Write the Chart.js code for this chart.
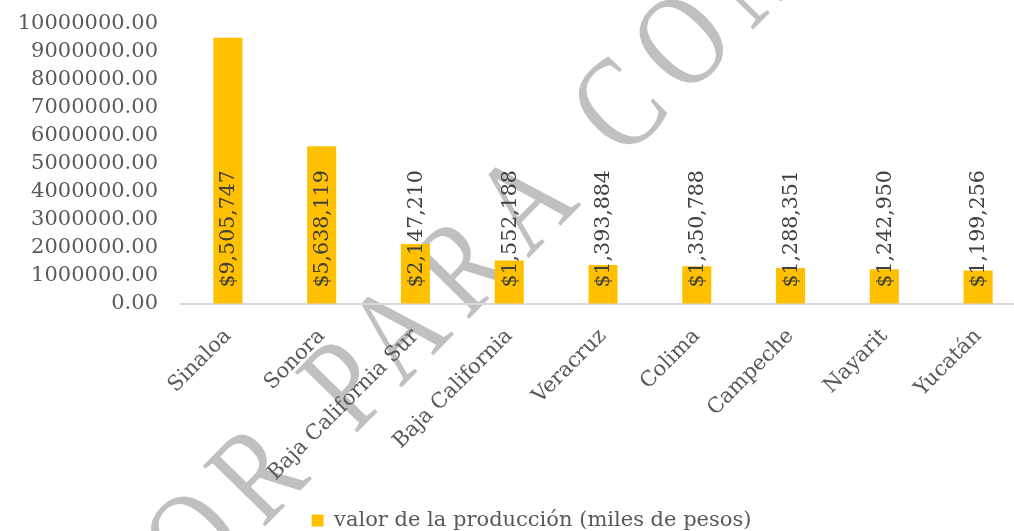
<!DOCTYPE html>
<html lang="es">
<head>
<meta charset="utf-8">
<title>Valor de la producción</title>
<script src="https://cdn.jsdelivr.net/npm/chart.js@4.4.1/dist/chart.umd.min.js"></script>
<style>
  html, body { margin: 0; padding: 0; background: #fff; overflow: hidden; }
  #wrap { width: 1060px; height: 531px; }
</style>
</head>
<body>
<div id="wrap"><canvas id="chart" width="1060" height="531"></canvas></div>
<script>
const estados = ["Sinaloa", "Sonora", "Baja California Sur", "Baja California", "Veracruz", "Colima", "Campeche", "Nayarit", "Yucatán"];
const valores = [9505747, 5638119, 2147210, 1552188, 1393884, 1350788, 1288351, 1242950, 1199256];
const serieNombre = "valor de la producción (miles de pesos)";
const yMax = 10000000;
const yPaso = 1000000;
const marcaAgua = "BORRADOR PARA COMENTARIOS";

const SERIF = '"DejaVu Serif", "Liberation Serif", serif';
const AMARILLO = "#FFC000";
const GRIS_TEXTO = "#595959";

// Gray diagonal watermark, painted first so axes and bars sit on top
const fondoPlugin = {
  id: "fondo",
  afterLayout(chart) {
    // legend sits a bit right of the canvas centre and close to the bottom edge
    const lg = chart.legend;
    lg.left += 38;
    lg.top += 10;
    lg.bottom += 10;
  },
  beforeDraw(chart) {
    const ctx = chart.ctx;
    ctx.save();
    ctx.fillStyle = "#ffffff";
    ctx.fillRect(0, 0, chart.width, chart.height);
    ctx.translate(262, 467);
    ctx.rotate(-45.5 * Math.PI / 180);
    ctx.scale(1, 1.25);
    ctx.font = '106px "Liberation Serif", serif';
    ctx.letterSpacing = "17px";
    const antes = ctx.measureText("BORRADO").width + ctx.measureText("R").width / 2;
    ctx.fillStyle = "#c0c0c0";
    ctx.textBaseline = "alphabetic";
    ctx.fillText(marcaAgua, -antes, 35);
    ctx.restore();
  }
};

// Vertical value labels sitting at the base of each bar
const etiquetasPlugin = {
  id: "etiquetas",
  afterDatasetsDraw(chart) {
    const ctx = chart.ctx;
    const meta = chart.getDatasetMeta(0);
    ctx.save();
    ctx.font = "20.5px " + SERIF;
    ctx.fillStyle = "#404040";
    ctx.textAlign = "left";
    ctx.textBaseline = "middle";
    meta.data.forEach((bar, i) => {
      const txt = "$" + valores[i].toLocaleString("en-US");
      ctx.save();
      ctx.translate(bar.x + 1, bar.base - 16);
      ctx.rotate(-Math.PI / 2);
      ctx.fillText(txt, 0, 0);
      ctx.restore();
    });
    ctx.restore();
  }
};

new Chart(document.getElementById("chart"), {
  type: "bar",
  data: {
    labels: estados,
    datasets: [{
      label: serieNombre,
      data: valores,
      backgroundColor: AMARILLO,
      borderWidth: 0,
      categoryPercentage: 1,
      barPercentage: 0.31
    }]
  },
  options: {
    responsive: false,
    animation: false,
    layout: { padding: { top: 24, left: 0, right: 35, bottom: 0 } },
    plugins: {
      tooltip: { enabled: false },
      legend: {
        position: "bottom",
        labels: {
          boxWidth: 12,
          boxHeight: 12,
          padding: 4,
          color: GRIS_TEXTO,
          font: { family: SERIF, size: 21, lineHeight: 1 }
        }
      }
    },
    scales: {
      x: {
        grid: { display: false, drawTicks: false },
        border: { display: true, color: "#d9d9d9", width: 2 },
        ticks: {
          color: GRIS_TEXTO,
          font: { family: SERIF, size: 21 },
          minRotation: 45,
          maxRotation: 45,
          padding: 20,
          autoSkip: false
        },
        afterFit(scale) {
          scale.height = 531 - 304 - scale.chart.legend.height;
        }
      },
      y: {
        min: 0,
        max: yMax,
        // invisible tick marks keep the labels clear of the plot edge
        grid: { display: true, drawOnChartArea: false, drawTicks: true, tickLength: 23, tickColor: "rgba(0,0,0,0)", color: "rgba(0,0,0,0)" },
        border: { display: false },
        ticks: {
          stepSize: yPaso,
          autoSkip: false,
          color: GRIS_TEXTO,
          padding: 0,
          font: { family: SERIF, size: 21 },
          callback: (v) => Number(v).toFixed(2)
        },
        afterFit(scale) {
          scale.width = 181;
        }
      }
    }
  },
  plugins: [fondoPlugin, etiquetasPlugin]
});
</script>
</body>
</html>
